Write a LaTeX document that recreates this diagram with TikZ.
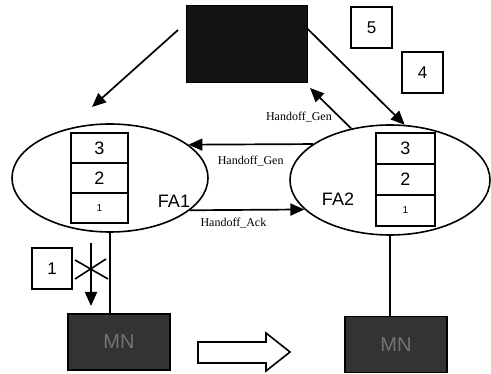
\documentclass[tikz,border=0pt]{standalone}
\usepackage{fontspec}
\setmainfont{Liberation Sans}
\newfontfamily\msgfont{Liberation Serif}
\usetikzlibrary{arrows.meta,shapes.geometric}

\tikzset{
  arr/.style={line width=1.7pt, -{Triangle[length=14pt,width=12pt]}},
  wire/.style={line width=1.6pt},
  fa/.style={draw, ellipse, line width=1.6pt, inner sep=0pt},
  numbox/.style={draw, line width=1.6pt, minimum width=41pt, minimum height=41pt, inner sep=0pt, font=\fontsize{17}{17}\selectfont},
  msg/.style={font=\msgfont\fontsize{12}{12}\selectfont, inner sep=0pt},
  mnbox/.style={draw, line width=1.6pt, fill=black!80, text=black!55, minimum width=102pt, minimum height=56pt, inner sep=0pt, font=\fontsize{20}{20}\selectfont}
}

\begin{document}
\begin{tikzpicture}[x=1pt,y=-1pt]
    \useasboundingbox (0,0) rectangle (491,374);
    \fill[white] (0,0) rectangle (491,374);

    \node[draw, fill=black!92, minimum width=121pt, minimum height=77pt] (ha) at (246.5,43.5) {};
    \node[numbox] (b5) at (371.5,27.5) {5};
    \node[numbox] (b4) at (422.5,72.5) {4};

    \node[fa, minimum width=196pt, minimum height=108pt] (fa1) at (110,178) {};
    \node[fa, minimum width=200pt, minimum height=110pt] (fa2) at (390,180) {};

    % stacks of the two agents
    \foreach \y/\t in {148/3,178/2,208/1} {
        \draw[wire, fill=white] (99.5,\y) +(-28.5,-15) rectangle ++(28.5,15);
    }
    \foreach \y/\t in {148.5/3,179.5/2,210.5/1} {
        \draw[wire, fill=white] (405.5,\y) +(-29.5,-15.5) rectangle ++(29.5,15.5);
    }
    \draw (99.5,148) node[font=\fontsize{18}{18}\selectfont] (s13) {3};
    \draw (99.5,178) node[font=\fontsize{18}{18}\selectfont] (s12) {2};
    \draw (99.5,208) node[font=\fontsize{10}{10}\selectfont] (s11) {1};
    \draw (405.5,148.5) node[font=\fontsize{18}{18}\selectfont] (s23) {3};
    \draw (405.5,179.5) node[font=\fontsize{18}{18}\selectfont] (s22) {2};
    \draw (405.5,210.5) node[font=\fontsize{10}{10}\selectfont] (s21) {1};

    \node[font=\fontsize{18}{18}\selectfont] (fa1lbl) at (174,201) {FA1};
    \node[font=\fontsize{18}{18}\selectfont] (fa2lbl) at (338,199) {FA2};

    \coordinate (ha-l) at (178,30);
    \coordinate (fa1-t) at (92,107);
    \coordinate (ha-r) at ([yshift=15pt]ha.east);
    \coordinate (ha-b) at (310,88);
    \draw[arr] (ha-l) -- (fa1-t);
    \draw[arr] (ha-r) -- (fa2.75);
    \draw[arr] (fa2.127) -- (ha-b) node[msg, pos=0.28, left=7pt] (gen1) {Handoff\_Gen};

    \draw[arr] (fa2.155.6) -- (fa1.23) node[msg, midway, below=11pt] (gen2) {Handoff\_Gen};
    \draw[arr] (fa1.-22) -- (fa2.199.7) node[msg, pos=0.38, below=7pt] (ack) {Handoff\_Ack};

    \node[mnbox] (mn1) at (119,342) {MN};
    \node[mnbox] (mn2) at (396,344.5) {MN};
    \draw[wire] (fa1.south) -- (fa1.south |- mn1.north);
    \draw[wire] (fa2.south) -- (fa2.south |- mn2.north);

    \node[numbox, minimum width=40pt] (b1) at (52,268.5) {1};
    \coordinate (cut) at (91,269);
    \coordinate (cut-t) at (91,243);
    \coordinate (cut-b) at (91,306);
    \draw[arr] (cut-t) -- (cut-b);
    \draw[wire] (cut) +(-16,-9) -- +(17,10);
    \draw[wire] (cut) +(-16,10) -- +(15,-10);

    \draw[wire, fill=white] (198,342) -- (266,342) -- (266,333) -- (290,352)
        -- (266,371) -- (266,363) -- (198,363) -- cycle;
\end{tikzpicture}
\end{document}
